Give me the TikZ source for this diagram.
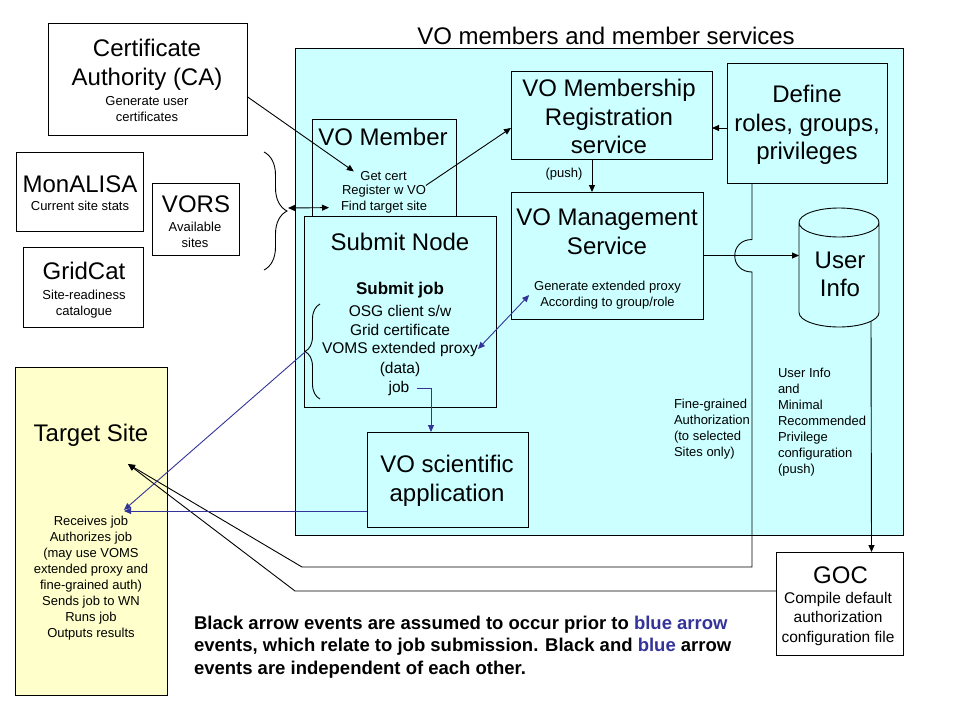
\documentclass[tikz,border=0pt]{standalone}
\usepackage{fontspec}
\setmainfont{Liberation Sans}
\usetikzlibrary{positioning,shapes,arrows.meta,decorations.pathreplacing,backgrounds}
\definecolor{vocyan}{RGB}{204,255,255}
\definecolor{siteyellow}{RGB}{255,255,204}
\definecolor{evblue}{RGB}{51,51,153}

\begin{document}
\begin{tikzpicture} [x=1pt, y=-1pt, line width=0.9pt, >={Triangle[length=7pt,width=6pt]},
    every node/.style={inner sep=0pt, outer sep=0pt},
    box/.style={draw, rectangle, fill=white},
    vobox/.style={box, fill=vocyan},
    big/.style={font=\fontsize{24}{28.5}\selectfont, align=center},
    mid/.style={font=\fontsize{15.5}{19.5}\selectfont, align=center},
    small/.style={font=\fontsize{13}{16}\selectfont, align=center},
    note/.style={small, anchor=west, align=left},
    lid/.style={x radius=40pt, y radius=14.5pt},
    curly/.style={decorate, decoration={brace, amplitude=#1}},]
\useasboundingbox (0,0) rectangle (960,720);

\node[big] (title) at (606,36) {VO members and member services};
\node[vobox, minimum width=608pt, minimum height=487pt] (region) at (599,291.5) {};

\node[box, minimum width=199pt, minimum height=112pt] (ca) at (147.5,79) {};
\node[big] (catitle) at (147,65) {Certificate\\Authority (CA)};
\node[small] (catext) at (147,109) {Generate user\\certificates};

\node[box, minimum width=127pt, minimum height=79pt] (monalisa) at (79.5,191.5) {};
\node[big] (montitle) at (80,184) {MonALISA};
\node[small] (montext) at (80,206) {Current site stats};

\node[box, minimum width=87pt, minimum height=72pt] (vors) at (195.5,219) {};
\node[big] (vorstitle) at (196,204) {VORS};
\node[small] (vorstext) at (195,235) {Available\\sites};

\node[box, minimum width=120pt, minimum height=80pt] (gridcat) at (83,287) {};
\node[big] (gridtitle) at (84,271) {GridCat};
\node[small] (gridtext) at (84,304) {Site-readiness\\catalogue};

\draw[curly=23pt] (264,152) -- (264,270);
\coordinate (bracetip) at (288,208);

\node[vobox, minimum width=144pt, minimum height=141pt] (vomember) at (384,189.5) {};
\node[big] (membertitle) at (383,137) {VO Member};
\node[small] (getcert) at (383.5,176) {Get cert};
\node[small] (register) at (384,191.5) {Register w VO};
\node[small] (find) at (384,207.5) {Find target site};

\node[vobox, minimum width=192pt, minimum height=191pt] (submit) at (400,311.5) {};
\node[big] (submittitle) at (400,242) {Submit Node};
\node[font=\bfseries\fontsize{17}{20}\selectfont] (submitjob) at (400,290.5) {Submit job};
\node[mid] (osg) at (400,310.5) {OSG client s/w};
\node[mid] (gridcert) at (400,329.5) {Grid certificate};
\node[mid] (voms) at (400,349) {VOMS extended proxy};
\node[mid] (data) at (400,369) {(data)};
\node[mid] (job) at (399,388.5) {job};
\draw[curly=15pt] (320,399) -- (320,304);
\coordinate (subtip) at (305,352);

\node[vobox, minimum width=201pt, minimum height=88pt] (membership) at (611.5,115) {};
\node[big] (shiptitle) at (609,116.5) {VO Membership\\Registration\\service};

\node[vobox, minimum width=160pt, minimum height=120pt] (define) at (807,123) {};
\node[big] (definetitle) at (807,125) {Define\\roles, groups,\\privileges};

\node[small] (push) at (564,174) {(push)};

\node[vobox, minimum width=192pt, minimum height=127pt] (mgmt) at (607,255.5) {};
\node[big] (mgmttitle) at (607,231.5) {VO Management\\Service};
\node[small] (gen) at (607.5,295) {Generate extended proxy\\According to group/role};

\node[minimum width=80pt, minimum height=119pt] (userinfo) at (839,267.5) {};
\draw[fill=vocyan] ([yshift=-14.5pt]userinfo.north west) -- ([yshift=14.5pt]userinfo.south west)
    arc[start angle=180, end angle=360, lid] -- ([yshift=-14.5pt]userinfo.north east)
    arc[start angle=0, end angle=180, lid] arc[start angle=180, end angle=360, lid];
\node[big] (usertitle) at (840,274.5) {User\\Info};

\node[note] (finegrained) at (674,429) {Fine-grained\\Authorization\\(to selected\\Sites only)};
\node[note] (userpush) at (778,422.5) {User Info\\and\\Minimal\\Recommended\\Privilege\\configuration\\(push)};

\node[box, minimum width=127pt, minimum height=103pt] (goc) at (839.5,603.5) {};
\node[big] (goctitle) at (840.5,575) {GOC};
\node[mid] (goctext) at (838,618.5) {Compile default\\authorization\\configuration file};

\node[box, fill=siteyellow, minimum width=152pt, minimum height=328pt] (target) at (91,531) {};
\node[big] (targettitle) at (91,435) {Target Site};
\node[small] (targettext) at (91,578.5) {Receives job\\Authorizes job\\(may use VOMS\\extended proxy and\\fine-grained auth)\\Sends job to WN\\Runs job\\Outputs results};
\coordinate (tsin) at (128,464);
\coordinate (recv) at (124,510);

\node[vobox, minimum width=161pt, minimum height=95pt] (sciapp) at (447.5,479.5) {};
\node[big] (scititle) at (447,481) {VO scientific\\application};

\node[anchor=west, align=left, font=\bfseries\fontsize{18.5}{22.5}\selectfont] (legend) at (194,647)
    {Black arrow events are assumed to occur prior to \textcolor{evblue}{blue arrow}\\
     events, which relate to job submission. Black and \textcolor{evblue}{blue} arrow\\
     events are independent of each other.};

\draw[->, shorten >=8pt] (ca.-10) -- (getcert.west);
\draw[->] (register.north east) -- ([yshift=-13pt]membership.west);
\draw[<->, shorten >=12pt] (bracetip) -- (find.west);
\draw[->] ([yshift=-5pt]define.west) -- ([yshift=-5pt]define.west -| membership.east);
\draw[->] ([xshift=-19.5pt]membership.south) -- ([xshift=-19.5pt]membership.south |- mgmt.north);
\draw[->] (mgmt.east) -- (mgmt.east -| userinfo.west);
\draw[->] ([xshift=25pt]define.south west) -- ++(0,56.5) .. controls +(-23,0) and +(-23,0) .. ++(0,32.5)
    -- ++(0,295) -- ++(-450,0) -- (tsin);
\draw[->] ([xshift=32pt,yshift=5.8pt]userinfo.south) -- ([xshift=32pt]goc.north);
\draw[->] ([yshift=12.5pt]goc.west) -- ++(-481,0) -- (tsin);

\draw[->, evblue, shorten <=8pt] (job.east) -| ([xshift=-16.5pt]sciapp.north);
\draw[->, evblue] ([yshift=-31.5pt]sciapp.west) -- ([yshift=-31.5pt]sciapp.west -| recv);
\draw[->, evblue] (subtip) -- (recv);
\draw[<->, evblue] (voms.east) -- ([xshift=-5pt]gen.west);

\end{tikzpicture}
\end{document}
